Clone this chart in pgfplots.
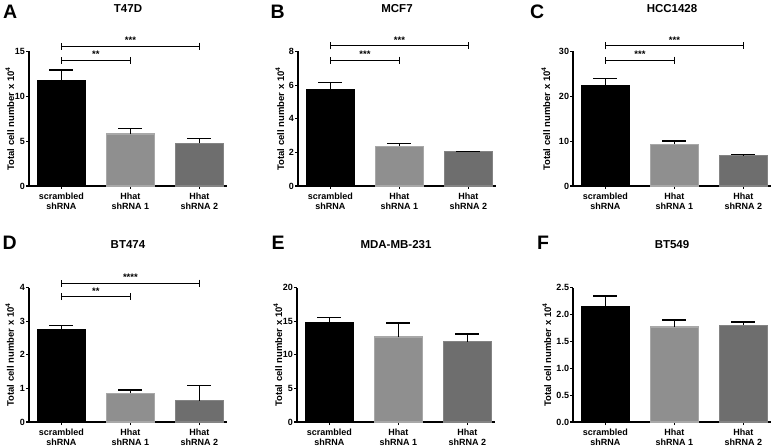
\documentclass[border=0pt]{standalone}
\usepackage{fontspec}
\setmainfont{Liberation Sans}
\usepackage{pgfplots}
\pgfplotsset{compat=1.18}
\usetikzlibrary{arrows.meta}
\definecolor{lbar}{RGB}{143,143,143}
\definecolor{lbord}{RGB}{168,168,168}
\definecolor{dbar}{RGB}{110,110,110}
\definecolor{dbord}{RGB}{132,132,132}
\tikzset{
  sig/.style={line width=0.9pt, {Bar[width=7pt]}-{Bar[width=7pt]}},
  star/.style={anchor=base, inner sep=0pt, font=\fontsize{9.5}{10}\selectfont\bfseries},
}
\pgfplotsset{
  panel/.style={
    scale only axis, width=198pt, height=134.5pt,
    xmin=-0.47, xmax=2.4, ymin=0,
    axis x line*=bottom, axis y line*=left,
    axis line style={line width=1.2pt, -},
    tick align=outside, major tick length=3pt,
    every tick/.style={black, line width=1.2pt},
    xtick={0,1,2},
    xticklabels={scrambled\\shRNA, Hhat\\shRNA 1, Hhat\\shRNA 2},
    xticklabel style={align=center, font=\fontsize{9}{10}\selectfont\bfseries},
    yticklabel style={font=\fontsize{9}{10}\selectfont\bfseries, inner sep=0.8pt},
    /pgf/number format/assume math mode=true,
    title style={font=\fontsize{11.5}{12}\selectfont\bfseries, at={(0.5,1)}, anchor=base, yshift=33pt},
    ylabel={Total cell number x 10\textsuperscript{4}},
    clip=false,
  },
  ylab/.style={ylabel style={font=\fontsize{9.5}{10}\selectfont\bfseries, at={([xshift=-#1]axis description cs:0,0.5)}, anchor=base}},
  errb/.style={error bars/.cd, y dir=plus, y explicit,
    error bar style={line width=1.3pt, black},
    error mark options={rotate=90, black, line width=1.3pt, mark size=12pt}},
  b0/.style={ybar, bar width=0.7, fill=black, draw=black, line width=1.2pt, errb},
  b1/.style={ybar, bar width=0.7, fill=lbar, draw=lbord, line width=1.2pt, errb},
  b2/.style={ybar, bar width=0.7, fill=dbar, draw=dbord, line width=1.2pt, errb},
}
\newcommand{\letter}[2]{\node[anchor=base west, inner sep=0pt, font=\fontsize{19.5}{20}\selectfont\bfseries] at (#1) {#2};}
\begin{document}
\begin{tikzpicture}[x=1pt,y=1pt]
\useasboundingbox (0,0) rectangle (778,447);
% ---------------- A
\begin{axis}[panel, ylab=15pt, at={(29pt,261pt)}, anchor=south west, title={T47D}, ymax=15, ytick={0,5,10,15}]
\addplot[b0] coordinates {(0,11.75) +- (0,1.2)};
\addplot[b1] coordinates {(1,5.79) +- (0,0.63)};
\addplot[b2] coordinates {(2,4.74) +- (0,0.56)};
\draw[sig] (axis cs:0,15.6) -- (axis cs:2,15.6);
\node[star] at ([yshift=2.5pt]axis cs:1,15.6) {***};
\draw[sig] (axis cs:0,14.0) -- (axis cs:1,14.0);
\node[star] at ([yshift=2.5pt]axis cs:0.5,14.0) {**};
\end{axis}
% ---------------- B
\begin{axis}[panel, ylab=14pt, at={(298pt,261pt)}, anchor=south west, title={MCF7}, ymax=8, ytick={0,2,4,6,8}]
\addplot[b0] coordinates {(0,5.71) +- (0,0.43)};
\addplot[b1] coordinates {(1,2.37) +- (0,0.16)};
\addplot[b2] coordinates {(2,2.04) +- (0,0.02)};
\draw[sig] (axis cs:0,8.34) -- (axis cs:2,8.34);
\node[star] at ([yshift=2.5pt]axis cs:1,8.34) {***};
\draw[sig] (axis cs:0,7.49) -- (axis cs:1,7.49);
\node[star] at ([yshift=2.5pt]axis cs:0.5,7.49) {***};
\end{axis}
% ---------------- C
\begin{axis}[panel, ylab=23pt, at={(573pt,261pt)}, anchor=south west, title={HCC1428}, ymax=30, ytick={0,10,20,30}]
\addplot[b0] coordinates {(0,22.3) +- (0,1.6)};
\addplot[b1] coordinates {(1,9.33) +- (0,0.74)};
\addplot[b2] coordinates {(2,6.8) +- (0,0.23)};
\draw[sig] (axis cs:0,31.27) -- (axis cs:2,31.27);
\node[star] at ([yshift=2.5pt]axis cs:1,31.27) {***};
\draw[sig] (axis cs:0,28.07) -- (axis cs:1,28.07);
\node[star] at ([yshift=2.5pt]axis cs:0.5,28.07) {***};
\end{axis}
% ---------------- D
\begin{axis}[panel, ylab=15pt, at={(29pt,25pt)}, anchor=south west, title={BT474}, ymax=4, ytick={0,1,2,3,4}]
\addplot[b0] coordinates {(0,2.76) +- (0,0.10)};
\addplot[b1] coordinates {(1,0.85) +- (0,0.10)};
\addplot[b2] coordinates {(2,0.63) +- (0,0.45)};
\draw[sig] (axis cs:0,4.13) -- (axis cs:2,4.13);
\node[star] at ([yshift=2.5pt]axis cs:1,4.13) {****};
\draw[sig] (axis cs:0,3.73) -- (axis cs:1,3.73);
\node[star] at ([yshift=2.5pt]axis cs:0.5,3.73) {**};
\end{axis}
% ---------------- E
\begin{axis}[panel, ylab=15pt, at={(297pt,25pt)}, anchor=south west, title={MDA-MB-231}, ymax=20, ytick={0,5,10,15,20}]
\addplot[b0] coordinates {(0,14.82) +- (0,0.75)};
\addplot[b1] coordinates {(1,12.63) +- (0,2.09)};
\addplot[b2] coordinates {(2,11.94) +- (0,1.13)};
\end{axis}
% ---------------- F
\begin{axis}[panel, ylab=22pt, at={(573pt,25pt)}, anchor=south west, title={BT549}, ymax=2.5, ytick={0,0.5,1,1.5,2,2.5},
  yticklabel style={/pgf/number format/.cd, fixed, fixed zerofill, precision=1}]
\addplot[b0] coordinates {(0,2.15) +- (0,0.19)};
\addplot[b1] coordinates {(1,1.765) +- (0,0.13)};
\addplot[b2] coordinates {(2,1.80) +- (0,0.057)};
\end{axis}
% ---------------- panel letters
\letter{3,428.7}{A}
\letter{270.5,428.7}{B}
\letter{530,428.7}{C}
\letter{2.5,197}{D}
\letter{271.5,197}{E}
\letter{537,197}{F}
\end{tikzpicture}
\end{document}
